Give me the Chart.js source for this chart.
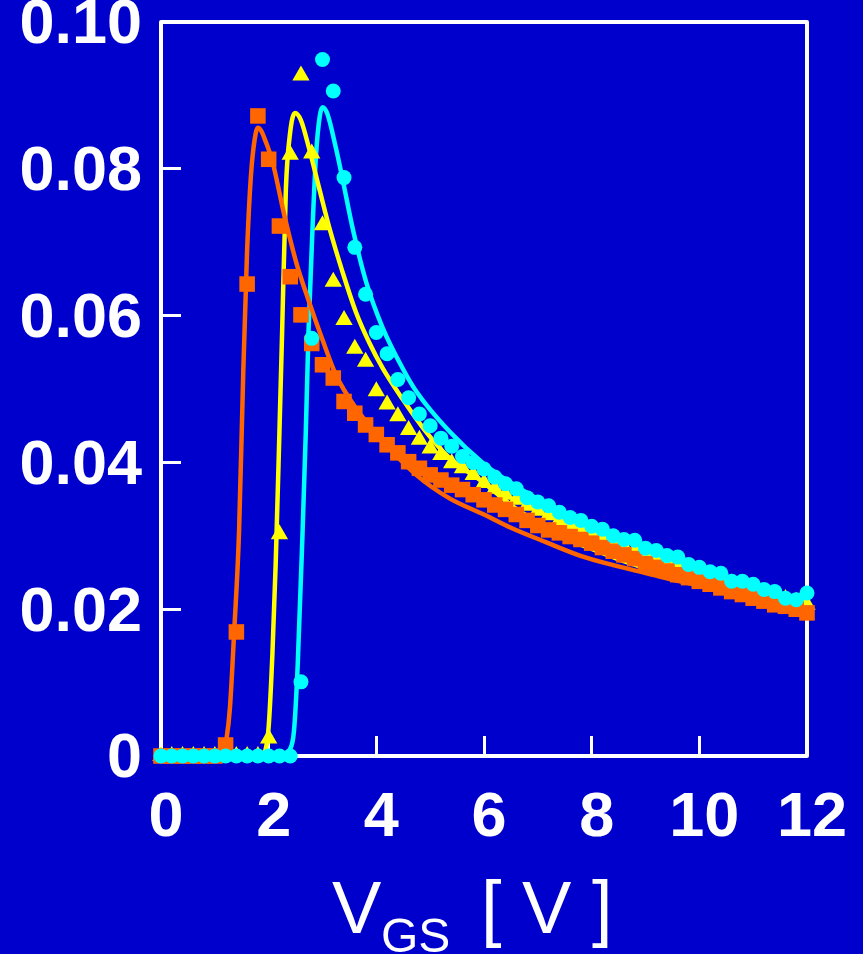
<!DOCTYPE html>
<html>
<head>
    <meta charset="UTF-8">
    <title>VGS</title>
    <script src="https://cdn.jsdelivr.net/npm/chart.js"></script>
    <style>
        body { margin: 0; background: #0000cc; }
        canvas { display: block; }
    </style>
</head>
<body>
<canvas id="gm" width="863" height="954"></canvas>
<script>
    // measured points, one every 0.2 V
    const vgs = [0, 0.2, 0.4, 0.6, 0.8, 1.0, 1.2, 1.4, 1.6, 1.8,
        2.0, 2.2, 2.4, 2.6, 2.8, 3.0, 3.2, 3.4, 3.6, 3.8,
        4.0, 4.2, 4.4, 4.6, 4.8, 5.0, 5.2, 5.4, 5.6, 5.8,
        6.0, 6.2, 6.4, 6.6, 6.8, 7.0, 7.2, 7.4, 7.6, 7.8,
        8.0, 8.2, 8.4, 8.6, 8.8, 9.0, 9.2, 9.4, 9.6, 9.8,
        10.0, 10.2, 10.4, 10.6, 10.8, 11.0, 11.2, 11.4, 11.6, 11.8,
        12.0];
    const squares = [0, 0, 0, 0, 0, 0, 0.0015, 0.0169, 0.0643, 0.0872,
        0.0813, 0.0722, 0.0653, 0.0601, 0.0562, 0.0533, 0.0515, 0.0483, 0.0467, 0.0451,
        0.0438, 0.0424, 0.0413, 0.0401, 0.0392, 0.0383, 0.0376, 0.0369, 0.0363, 0.0356,
        0.0349, 0.0342, 0.0336, 0.0329, 0.0321, 0.0314, 0.0308, 0.0304, 0.0299, 0.0295,
        0.0290, 0.0284, 0.0279, 0.0274, 0.0269, 0.0262, 0.0257, 0.0252, 0.0247, 0.0243,
        0.0238, 0.0234, 0.0229, 0.0224, 0.0220, 0.0215, 0.0211, 0.0206, 0.0204, 0.0200,
        0.0195];
    const triangles = [0, 0, 0, 0, 0, 0, 0, 0, 0, 0,
        0.0024, 0.0302, 0.0819, 0.0927, 0.0821, 0.0723, 0.0646, 0.0594, 0.0555, 0.0537,
        0.0497, 0.0479, 0.0463, 0.0444, 0.0431, 0.0419, 0.0410, 0.0399, 0.0392, 0.0383,
        0.0372, 0.0364, 0.0356, 0.0349, 0.0341, 0.0334, 0.0328, 0.0321, 0.0315, 0.0309,
        0.0303, 0.0297, 0.0291, 0.0285, 0.0280, 0.0274, 0.0269, 0.0264, 0.0259, 0.0254,
        0.0249, 0.0244, 0.0240, 0.0235, 0.0231, 0.0227, 0.0222, 0.0218, 0.0214, 0.0210,
        0.0206];
    const circles = [0, 0, 0, 0, 0, 0, 0, 0, 0, 0,
        0, 0, 0, 0.0101, 0.0569, 0.0949, 0.0906, 0.0788, 0.0693, 0.0629,
        0.0577, 0.0548, 0.0513, 0.0488, 0.0466, 0.0450, 0.0433, 0.0422, 0.0408, 0.0400,
        0.0391, 0.0380, 0.0371, 0.0364, 0.0352, 0.0346, 0.0341, 0.0332, 0.0325, 0.0321,
        0.0313, 0.0309, 0.0300, 0.0295, 0.0294, 0.0283, 0.0280, 0.0273, 0.0271, 0.0261,
        0.0257, 0.0251, 0.0249, 0.0238, 0.0238, 0.0234, 0.0227, 0.0224, 0.0215, 0.0213,
        0.0222];

    // model curves
    const fitOrangeX = [0, 1.0, 1.15, 1.22, 1.28, 1.36, 1.45, 1.53, 1.6, 1.67, 1.74, 1.8, 1.86, 1.94,
        2.07, 2.29, 2.51, 2.75, 3.0, 3.25, 3.62, 4.12, 4.74, 5.36, 6.0, 6.5, 7.16, 7.78, 8.4,
        9.02, 9.64, 10.26, 10.88, 11.5, 12];
    const fitOrangeY = [0, 0, 0.0005, 0.0025, 0.0065, 0.0170, 0.0306, 0.0528, 0.0690, 0.0790, 0.0840, 0.0856, 0.0852, 0.0838,
        0.0810, 0.0737, 0.0673, 0.0619, 0.0567, 0.0519, 0.0474, 0.0429, 0.0383, 0.0351, 0.0329, 0.0311, 0.0291, 0.0273, 0.0260,
        0.0249, 0.0238, 0.0228, 0.0217, 0.0207, 0.0199];
    const fitYellowX = [0, 1.85, 1.94, 2.0, 2.07, 2.13, 2.2, 2.25, 2.32, 2.4, 2.49, 2.6, 2.75, 2.94, 3.13, 3.37,
        3.62, 3.87, 4.12, 4.49, 4.92, 5.36, 6.0, 6.5, 7.0, 7.5, 8.0, 8.5, 9.0, 9.5, 10.0, 10.5, 11.0, 11.5, 12];
    const fitYellowY = [0, 0, 0.0008, 0.0040, 0.0140, 0.0261, 0.0442, 0.0578, 0.0773, 0.0850, 0.0876, 0.0866, 0.0828, 0.0773, 0.0719, 0.0660,
        0.0605, 0.0563, 0.0528, 0.0486, 0.0442, 0.0406, 0.0372, 0.0342, 0.0318, 0.0297, 0.0282, 0.0268, 0.0256, 0.0245, 0.0235, 0.0226, 0.0218, 0.0210, 0.0203];
    const fitCyanX = [0, 2.3, 2.38, 2.47, 2.54, 2.63, 2.69, 2.74, 2.82, 2.88, 2.95, 3.0, 3.09, 3.25, 3.37, 3.56, 3.81,
        4.12, 4.49, 4.74, 5.36, 6.0, 6.5, 7.0, 7.5, 8.0, 8.5, 9.0, 9.5, 10.0, 10.5, 11.0, 11.5, 12];
    const fitCyanY = [0, 0, 0.0007, 0.0034, 0.0125, 0.0306, 0.0442, 0.0578, 0.0728, 0.0819, 0.0872, 0.0884, 0.0875, 0.0828, 0.0787, 0.0719, 0.0646,
        0.0583, 0.0528, 0.0497, 0.0442, 0.0398, 0.0372, 0.0350, 0.0331, 0.0313, 0.0297, 0.0282, 0.0268, 0.0255, 0.0243, 0.0232, 0.0221, 0.0211];

    const xTicks = [0, 2, 4, 6, 8, 10, 12];
    const yTicks = [0, 0.02, 0.04, 0.06, 0.08, 0.10];

    const ORANGE = '#ff6600', YELLOW = '#ffff00', CYAN = '#00ffff';

    function pairs(xs, ys) {
        return xs.map((x, i) => ({x: x, y: ys[i]}));
    }

    function marks(ys, style, r, color, order) {
        return {
            data: pairs(vgs, ys), pointStyle: style, pointRadius: r, pointHoverRadius: r,
            backgroundColor: color, borderColor: color, borderWidth: 0,
            showLine: false, clip: false, order: order
        };
    }

    function curve(xs, ys, color, order) {
        return {
            data: pairs(xs, ys), showLine: true, pointRadius: 0, borderColor: color,
            borderWidth: 4.5, cubicInterpolationMode: 'monotone', clip: false, order: order
        };
    }

    // white box round the plot + the V_GS title with its subscript
    const frame = {
        id: 'frame',
        beforeDatasetsDraw(chart) {
            const a = chart.chartArea, ctx = chart.ctx;
            ctx.save();
            ctx.strokeStyle = '#ffffff';
            ctx.lineWidth = 4;
            ctx.lineJoin = 'round';
            ctx.strokeRect(a.left, a.top, a.right - a.left, a.bottom - a.top);
            ctx.restore();
        },
        afterDraw(chart) {
            const a = chart.chartArea, ctx = chart.ctx;
            const cx = (a.left + a.right) / 2;
            ctx.save();
            ctx.fillStyle = '#ffffff';
            ctx.textAlign = 'left';
            ctx.textBaseline = 'alphabetic';
            ctx.font = '74px "Liberation Sans", Arial, sans-serif';
            ctx.fillText('V', cx - 152, a.bottom + 177);
            ctx.fillText('[ V ]', cx - 3, a.bottom + 177);
            ctx.font = '48px "Liberation Sans", Arial, sans-serif';
            ctx.fillText('GS', cx - 103, a.bottom + 196);
            ctx.restore();
        }
    };

    const tickFont = {family: '"Liberation Sans", Arial, sans-serif', size: 63, weight: 'bold'};

    new Chart(document.getElementById('gm'), {
        type: 'scatter',
        data: {
            datasets: [
                marks(circles, 'circle', 7.5, CYAN, 0),
                marks(squares, 'rect', 11, ORANGE, 1),
                marks(triangles, 'triangle', 10, YELLOW, 2),
                curve(fitOrangeX, fitOrangeY, ORANGE, 3),
                curve(fitYellowX, fitYellowY, YELLOW, 4),
                curve(fitCyanX, fitCyanY, CYAN, 5)
            ]
        },
        options: {
            responsive: false,
            animation: false,
            events: [],
            layout: {padding: {top: 22, right: 56, left: 0, bottom: 0}},
            plugins: {legend: {display: false}, tooltip: {enabled: false}},
            scales: {
                x: {
                    type: 'linear', min: 0, max: 12,
                    afterFit: s => { s.height = 198; s.paddingLeft = 0; s.paddingRight = 0; },
                    afterBuildTicks: s => { s.ticks = xTicks.map(v => ({value: v})); },
                    border: {display: false},
                    grid: {drawOnChartArea: false, drawTicks: true, tickLength: -20, color: '#ffffff', lineWidth: 3},
                    ticks: {color: '#ffffff', font: tickFont, padding: 45, labelOffset: 5, maxRotation: 0,
                        callback: v => String(v)}
                },
                y: {
                    type: 'linear', min: 0, max: 0.1,
                    afterFit: s => { s.width = 161; s.paddingTop = 0; s.paddingBottom = 0; },
                    afterBuildTicks: s => { s.ticks = yTicks.map(v => ({value: v})); },
                    border: {display: false},
                    grid: {drawOnChartArea: false, drawTicks: true, tickLength: -20, color: '#ffffff', lineWidth: 3},
                    ticks: {color: '#ffffff', font: tickFont, padding: 39, labelOffset: 4,
                        callback: v => v === 0 ? '0' : v.toFixed(2)}
                }
            }
        },
        plugins: [frame]
    });
</script>
</body>
</html>
